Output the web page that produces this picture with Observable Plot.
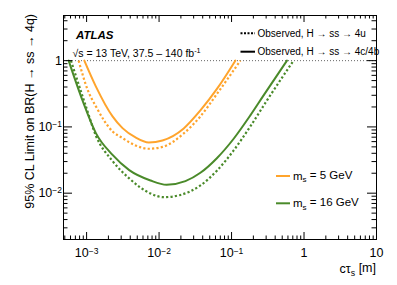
<!DOCTYPE html>
<html>
<head>
<meta charset="utf-8">
<script src="https://cdn.jsdelivr.net/npm/d3@7"></script>
<script src="https://cdn.jsdelivr.net/npm/@observablehq/plot@0.6"></script>
<style>
  html, body { margin: 0; padding: 0; background: #fff; }
  svg { font-family: "Liberation Sans", Arial, Helvetica, sans-serif; }
</style>
</head>
<body>
<div id="chart"></div>
<script>
// ---- Data ----
const ctau_5_4cb  = [0.00093, 0.00134, 0.00228, 0.00313, 0.00473, 0.00721, 0.01114, 0.02189, 0.03716, 0.0632, 0.1128];
const lim_5_4cb   = [1.0, 0.409, 0.144, 0.0959, 0.0694, 0.0583, 0.0625, 0.0949, 0.1775, 0.3776, 1.0];
const ctau_5_4u   = [0.000776, 0.001032, 0.001343, 0.002281, 0.003132, 0.00473, 0.007145, 0.01114, 0.02189, 0.03716, 0.0632, 0.1322];
const lim_5_4u    = [1.0, 0.3647, 0.204, 0.0855, 0.0677, 0.0525, 0.0468, 0.0499, 0.0797, 0.144, 0.3173, 1.0];
const ctau_16_4cb = [0.000565, 0.000881, 0.001343, 0.002281, 0.003873, 0.00761, 0.0127, 0.0231, 0.03716, 0.0632, 0.1069, 0.1815, 0.2767, 0.5814];
const lim_16_4cb  = [1.0, 0.2483, 0.0806, 0.0378, 0.0223, 0.01555, 0.01339, 0.0152, 0.0203, 0.0340, 0.0663, 0.1492, 0.2991, 1.0];
const ctau_16_4u  = [0.000608, 0.000978, 0.001343, 0.002281, 0.003873, 0.00761, 0.0116, 0.0197, 0.03716, 0.0632, 0.1069, 0.1815, 0.3083, 0.7167];
const lim_16_4u   = [1.0, 0.204, 0.0738, 0.0306, 0.0167, 0.0099, 0.0087, 0.0094, 0.01307, 0.02203, 0.04416, 0.1018, 0.2514, 1.0];

const xMajorTicks = [1e-3, 1e-2, 1e-1, 1, 10];
const xTickLabels = ["10^\u22123", "10^\u22122", "10^\u22121", "1", "10"];
const yMajorTicks = [1e-2, 1e-1, 1];
const yTickLabels = ["10^\u22122", "10^\u22121", "1"];

const massLabels = ["5 GeV", "16 GeV"];
const channelLabels = ["Observed, H \u2192 ss \u2192 4u", "Observed, H \u2192 ss \u2192 4c/4b"];

// ---- Build tables ----
function rows(ct, lim) { return ct.map((c, i) => ({ctau: c, lim: lim[i]})); }
const d5cb = rows(ctau_5_4cb, lim_5_4cb);
const d5u = rows(ctau_5_4u, lim_5_4u);
const d16cb = rows(ctau_16_4cb, lim_16_4cb);
const d16u = rows(ctau_16_4u, lim_16_4u);

const xDomain = [4.8e-4, 10];
const yDomain = [0.002, 4.8];
function minorTicks(domain) {
  const out = [];
  for (let e = -5; e <= 2; e++) {
    for (let k = 2; k <= 9; k++) {
      const v = k * Math.pow(10, e);
      if (v > domain[0] && v < domain[1]) out.push(v);
    }
  }
  return out;
}
const xMinor = minorTicks(xDomain);
const yMinor = minorTicks(yDomain);

const W = 397, H = 285, mL = 63, mR = 21, mT = 15, mB = 46;
const fW = W - mL - mR, fH = H - mT - mB;

const ORANGE = "#ffa42c";
const GREEN = "#4a8a2a";
const DOT = "2.2,2.2";

const chart = Plot.plot({
  width: W, height: H,
  marginLeft: mL, marginRight: mR, marginTop: mT, marginBottom: mB,
  style: {fontFamily: "Liberation Sans, Arial, Helvetica, sans-serif", background: "#fff", color: "#000"},
  x: {type: "log", domain: xDomain, label: null},
  y: {type: "log", domain: yDomain, label: null},
  marks: [
    Plot.ruleY([1], {stroke: "#555", strokeWidth: 0.9, strokeDasharray: "1,2"}),
    Plot.line(d16u, {x: "ctau", y: "lim", stroke: GREEN, strokeWidth: 2.2, strokeDasharray: DOT, strokeLinecap: "butt", curve: "monotone-x"}),
    Plot.line(d16cb, {x: "ctau", y: "lim", stroke: GREEN, strokeWidth: 2, curve: "monotone-x"}),
    Plot.line(d5u, {x: "ctau", y: "lim", stroke: ORANGE, strokeWidth: 2.2, strokeDasharray: DOT, strokeLinecap: "butt", curve: "monotone-x"}),
    Plot.line(d5cb, {x: "ctau", y: "lim", stroke: ORANGE, strokeWidth: 2, curve: "monotone-x"}),
    // ticks, inward, on all four sides
    Plot.tickX(xMajorTicks, {x: d => d, insetTop: fH - 7, stroke: "#000"}),
    Plot.tickX(xMinor, {x: d => d, insetTop: fH - 3.5, stroke: "#000"}),
    Plot.tickX(xMajorTicks, {x: d => d, insetBottom: fH - 7, stroke: "#000"}),
    Plot.tickX(xMinor, {x: d => d, insetBottom: fH - 3.5, stroke: "#000"}),
    Plot.tickY(yMajorTicks, {y: d => d, insetRight: fW - 9, stroke: "#000"}),
    Plot.tickY(yMinor, {y: d => d, insetRight: fW - 4.5, stroke: "#000"}),
    Plot.tickY(yMajorTicks, {y: d => d, insetLeft: fW - 9, stroke: "#000"}),
    Plot.tickY(yMinor, {y: d => d, insetLeft: fW - 4.5, stroke: "#000"}),
    Plot.axisX(xMajorTicks, {tickSize: 0, tickPadding: 9, fontSize: 12.5, label: null,
      tickFormat: d => xTickLabels[xMajorTicks.indexOf(d)]}),
    Plot.axisY(yMajorTicks, {tickSize: 0, tickPadding: 1.5, fontSize: 12.5, label: null,
      tickFormat: d => yTickLabels[yMajorTicks.indexOf(d)]}),
    Plot.frame({stroke: "#000", strokeWidth: 1})
  ]
});

document.getElementById("chart").appendChild(chart);

// superscripts in tick labels
const svg = d3.select(chart);
svg.selectAll('g[aria-label="x-axis tick label"] text, g[aria-label="y-axis tick label"] text').each(function () {
  const t = d3.select(this);
  const s = t.text();
  const i = s.indexOf("^");
  if (i < 0) return;
  t.text(null);
  t.append("tspan").text(s.slice(0, i));
  t.append("tspan").attr("dy", "-0.45em").attr("font-size", "0.68em").text(s.slice(i + 1));
});

// annotations
const g = svg.append("g").attr("font-family", "Liberation Sans, Arial, Helvetica, sans-serif")
  .attr("fill", "#000").attr("text-anchor", "start");

g.append("text").attr("x", 76).attr("y", 38.5).attr("font-size", 11.5)
  .attr("font-weight", "bold").attr("font-style", "italic").text("ATLAS");

const en = g.append("text").attr("x", 72.5).attr("y", 56.5).attr("font-size", 10.5);
en.append("tspan").text("\u221As = 13 TeV, 37.5 \u2013 140 fb");
en.append("tspan").attr("dy", "-0.45em").attr("font-size", "0.7em").text("-1");

// x title
const xt = g.append("text").attr("x", 376).attr("y", 273).attr("font-size", 12.5).attr("text-anchor", "end");
xt.append("tspan").text("c\u03C4");
xt.append("tspan").attr("dy", "0.3em").attr("font-size", "0.7em").text("s");
xt.append("tspan").attr("dy", "-0.3em").text(" [m]");

// y title
g.append("text").attr("transform", "translate(33.5,14) rotate(-90)").attr("text-anchor", "end")
  .attr("font-size", 12.5).text("95% CL Limit on BR(H \u2192 ss \u2192 4q)");

// legend: channels
const legTop = [
  {y: 33.3, dash: "2,1.5", label: channelLabels[0]},
  {y: 51.7, dash: null, label: channelLabels[1]}
];
legTop.forEach(l => {
  const ln = g.append("line").attr("x1", 240.5).attr("x2", 255).attr("y1", l.y).attr("y2", l.y)
    .attr("stroke", "#000").attr("stroke-width", 2);
  if (l.dash) ln.attr("stroke-dasharray", l.dash);
  g.append("text").attr("x", 257.5).attr("y", l.y).attr("dy", "0.35em").attr("font-size", 10).text(l.label);
});

// legend: masses
const legBot = [
  {y: 176, color: ORANGE, label: massLabels[0]},
  {y: 203.3, color: GREEN, label: massLabels[1]}
];
legBot.forEach(l => {
  g.append("line").attr("x1", 276).attr("x2", 290).attr("y1", l.y).attr("y2", l.y)
    .attr("stroke", l.color).attr("stroke-width", 2);
  const t = g.append("text").attr("x", 293).attr("y", l.y).attr("dy", "0.35em").attr("font-size", 11.5);
  t.append("tspan").text("m");
  t.append("tspan").attr("dy", "0.3em").attr("font-size", "0.7em").text("s");
  t.append("tspan").attr("dy", "-0.3em").text(" = " + l.label);
});
</script>
</body>
</html>
